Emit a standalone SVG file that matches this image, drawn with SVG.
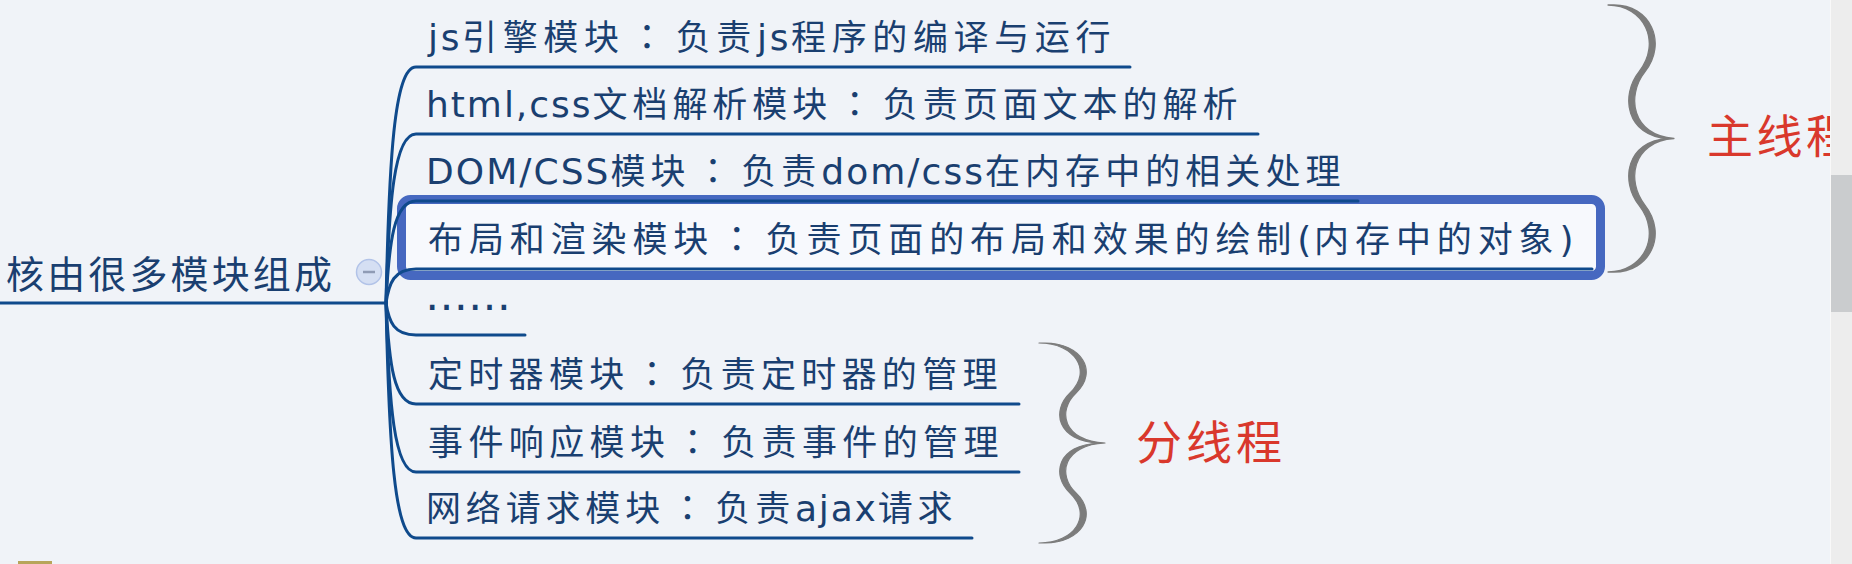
<svg xmlns="http://www.w3.org/2000/svg" width="1852" height="564" viewBox="0 0 1852 564">
<style>
.t{font-family:"DejaVu Sans","Noto Sans CJK SC",sans-serif;font-size:35px;fill:#1a3f70;letter-spacing:4.5px}
.la{font-size:36px;letter-spacing:1.5px}
.co{font-family:"Noto Sans CJK TC","Noto Sans CJK SC",sans-serif;letter-spacing:10px}
.dots{font-size:43px;letter-spacing:0}
.root{font-family:"Noto Sans CJK SC",sans-serif;font-size:38px;fill:#1a3f70}
.red{font-family:"Noto Sans CJK SC",sans-serif;font-size:46px;fill:#d9382c}
.ln{fill:none;stroke:#0f4a8c;stroke-width:3;stroke-linecap:round}
.brace{fill:#7c7c7c;stroke:#7c7c7c;stroke-width:1.2;stroke-linejoin:round}
</style>
<defs>
<path id="bracePath" d="M3,0 C39,0 57,28 34,50 C15,68 21,98 63,100 C21,102 15,132 34,150 C57,172 39,200 3,200 L-3,200 C33,200 51,172 28,150 C9,132 15,102 57,100 C15,98 9,68 28,50 C51,28 33,0 -3,0 Z"/>
</defs>
<rect width="1852" height="564" fill="#f0f3f8"/>

<g id="selection">
<rect x="401.5" y="199.5" width="1199" height="76" rx="9" fill="#f7f9fd" stroke="#4668c0" stroke-width="9"/>
</g>

<g id="connectors">
<path class="ln" d="M0,303 L386,303"/>
<path class="ln" d="M386,303 C389,161 394,67 416,67 L1130,67"/>
<path class="ln" d="M386,303 C389,202 394,134 416,134 L1258,134"/>
<path class="ln" d="M386,303 C389,242 394,201 416,201 L1358,201"/>
<path class="ln" d="M386,303 C389,283 394,269 416,269 L1592,269"/>
<path class="ln" d="M386,303 C389,322 394,335 416,335 L525,335"/>
<path class="ln" d="M386,303 C389,364 394,404 416,404 L1019,404"/>
<path class="ln" d="M386,303 C389,404 394,472 416,472 L1019,472"/>
<path class="ln" d="M386,303 C389,444 394,538 416,538 L972,538"/>
</g>

<g id="root">
<text class="root" x="6" y="288" textLength="326" lengthAdjust="spacing">核由很多模块组成</text>
<circle cx="369" cy="272" r="12.5" fill="#d5dff3" stroke="#b2c3e8" stroke-width="1.5"/>
<line x1="363" y1="272" x2="375" y2="272" stroke="#8f9bb5" stroke-width="2.5"/>
</g>

<g id="n1"><text class="t" x="428" y="50" textLength="687" lengthAdjust="spacing"><tspan class="la">js</tspan>引擎模块<tspan class="co" dx="5">：</tspan>负责<tspan class="la">js</tspan>程序的编译与运行</text></g>
<g id="n2"><text class="t" x="426" y="117" textLength="816" lengthAdjust="spacing"><tspan class="la">html,css</tspan>文档解析模块<tspan class="co" dx="5">：</tspan>负责页面文本的解析</text></g>
<g id="n3"><text class="t" x="426" y="184" textLength="919" lengthAdjust="spacing"><tspan class="la">DOM/CSS</tspan>模块<tspan class="co" dx="5">：</tspan>负责<tspan class="la">dom/css</tspan>在内存中的相关处理</text></g>
<g id="n4"><text class="t" x="428" y="252" textLength="1147" lengthAdjust="spacing">布局和渲染模块<tspan class="co" dx="5">：</tspan>负责页面的布局和效果的绘制<tspan class="la">(</tspan>内存中的对象<tspan class="la">)</tspan></text></g>
<g id="n5"><text class="t dots" x="425" y="310">……</text></g>
<g id="n6"><text class="t" x="428" y="387" textLength="574" lengthAdjust="spacing">定时器模块<tspan class="co" dx="5">：</tspan>负责定时器的管理</text></g>
<g id="n7"><text class="t" x="428" y="455" textLength="575" lengthAdjust="spacing">事件响应模块<tspan class="co" dx="5">：</tspan>负责事件的管理</text></g>
<g id="n8"><text class="t" x="426" y="521" textLength="531" lengthAdjust="spacing">网络请求模块<tspan class="co" dx="5">：</tspan>负责<tspan class="la">ajax</tspan>请求</text></g>

<g id="brace-main">
<use href="#bracePath" class="brace" transform="translate(1611,5) scale(1,1.335)"/>
</g>
<g id="label-main"><text class="red" x="1707" y="153" letter-spacing="3.5">主线程</text></g>

<g id="brace-sub">
<use href="#bracePath" class="brace" transform="translate(1042,343)"/>
</g>
<g id="label-sub"><text class="red" x="1136" y="459" textLength="146" lengthAdjust="spacing">分线程</text></g>

<g id="scrollbar">
<rect x="1830" y="0" width="22" height="564" fill="#ededed"/>
<line x1="1830.5" y1="0" x2="1830.5" y2="564" stroke="#f9f9f9" stroke-width="1"/>
<rect x="1831" y="175" width="21" height="137" fill="#caccce"/>
</g>
<rect x="18" y="561" width="34" height="3" fill="#b8a55a"/>
</svg>
